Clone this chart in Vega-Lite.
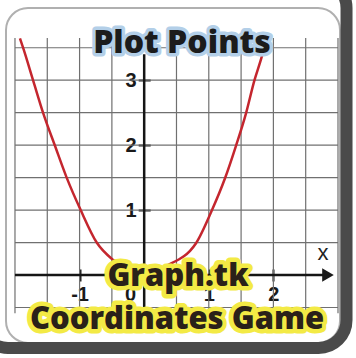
{
  "$schema": "https://vega.github.io/schema/vega-lite/v6.json",
  "width": 334,
  "height": 335,
  "autosize": {"type": "none"},
  "padding": {"left": 6, "top": 8, "right": 16, "bottom": 15},
  "background": "#ffffff",
  "config": {"view": {"fill": "#ffffff", "stroke": "#b0b0b0", "strokeWidth": 2, "cornerRadius": 22}},
  "datasets": {
    "curve": [
      {"x": -1.923, "y": 3.645},
      {"x": -1.871, "y": 3.49},
      {"x": -1.717, "y": 2.99},
      {"x": -1.562, "y": 2.49},
      {"x": -1.381, "y": 1.99},
      {"x": -1.2, "y": 1.5},
      {"x": -0.983, "y": 1.0},
      {"x": -0.735, "y": 0.5},
      {"x": -0.478, "y": 0.23},
      {"x": -0.2, "y": 0.06},
      {"x": 0.05, "y": 0.01},
      {"x": 0.322, "y": 0.13},
      {"x": 0.802, "y": 0.49},
      {"x": 1.045, "y": 0.99},
      {"x": 1.251, "y": 1.49},
      {"x": 1.421, "y": 1.99},
      {"x": 1.576, "y": 2.49},
      {"x": 1.704, "y": 2.99},
      {"x": 1.819, "y": 3.36},
      {"x": 1.87, "y": 3.55}
    ],
    "gridx": [
      {"gx": -2}, {"gx": -1.5}, {"gx": -1}, {"gx": -0.5}, {"gx": 0.5},
      {"gx": 1}, {"gx": 1.5}, {"gx": 2}, {"gx": 2.5}, {"gx": 3}
    ],
    "gridy": [
      {"gy": -0.5}, {"gy": 0.5}, {"gy": 1}, {"gy": 1.5}, {"gy": 2},
      {"gy": 2.5}, {"gy": 3}, {"gy": 3.5}
    ],
    "one": [{}]
  },
  "layer": [
    {
      "data": {"name": "curve"},
      "mark": {"type": "line", "color": "#c4262e", "strokeWidth": 2.5, "interpolate": "monotone", "opacity": 0},
      "encoding": {
        "x": {
          "field": "x", "type": "quantitative",
          "scale": {"domain": [-2.139, 3.031], "nice": false, "zero": false},
          "axis": {
            "orient": "bottom", "offset": -74, "values": [-1, 0, 1, 2],
            "domain": false, "grid": false, "tickSize": 12, "tickWidth": 2, "tickColor": "#1a1a1a",
            "labelExpr": "'' + datum.value",
            "labelOffset": {"condition": {"test": "datum.value === 0", "value": -14}, "value": 0},
            "labelFont": "Liberation Sans", "labelFontSize": 20, "labelFontWeight": 700,
            "labelColor": "#1a1a1a", "labelPadding": 3, "labelOverlap": false,
            "title": null
          }
        },
        "y": {
          "field": "y", "type": "quantitative",
          "scale": {"domain": [-1.047, 4.112], "nice": false, "zero": false},
          "axis": {
            "orient": "left", "offset": -144.2, "values": [1, 2, 3],
            "domain": false, "grid": false, "tickSize": 12, "tickWidth": 2, "tickColor": "#1a1a1a",
            "labelExpr": "'' + datum.value",
            "labelFont": "Liberation Sans", "labelFontSize": 20, "labelFontWeight": 700,
            "labelColor": "#1a1a1a", "labelPadding": 2, "labelOverlap": false,
            "title": null
          }
        }
      }
    },
    {
      "data": {"name": "one"},
      "mark": {"type": "rect", "filled": false, "stroke": "#4a4a4a", "strokeWidth": 12, "cornerRadius": 28},
      "encoding": {
        "x": {"datum": -2.541, "type": "quantitative"},
        "x2": {"datum": 3.132},
        "y": {"datum": 4.543, "type": "quantitative"},
        "y2": {"datum": -1.124}
      }
    },
    {
      "data": {"name": "gridx"},
      "mark": {"type": "rule", "color": "#707070", "strokeWidth": 1.2},
      "encoding": {
        "x": {"field": "gx", "type": "quantitative"},
        "y": {"datum": 3.65, "type": "quantitative"},
        "y2": {"datum": -0.59}
      }
    },
    {
      "data": {"name": "gridy"},
      "mark": {"type": "rule", "color": "#707070", "strokeWidth": 1.2},
      "encoding": {
        "y": {"field": "gy", "type": "quantitative"},
        "x": {"datum": -2, "type": "quantitative"},
        "x2": {"datum": 3}
      }
    },
    {
      "data": {"name": "one"},
      "mark": {"type": "rule", "color": "#151515", "strokeWidth": 2.5},
      "encoding": {
        "x": {"datum": 0, "type": "quantitative"},
        "y": {"datum": 3.4, "type": "quantitative"},
        "y2": {"datum": -0.59}
      }
    },
    {
      "data": {"name": "one"},
      "mark": {"type": "rule", "color": "#151515", "strokeWidth": 2.5},
      "encoding": {
        "y": {"datum": 0, "type": "quantitative"},
        "x": {"datum": -2, "type": "quantitative"},
        "x2": {"datum": 2.8}
      }
    },
    {
      "data": {"name": "one"},
      "mark": {"type": "point", "shape": "triangle-right", "filled": true, "fill": "#1a1a1a", "opacity": 1, "size": 180},
      "encoding": {
        "x": {"datum": 2.845, "type": "quantitative"},
        "y": {"datum": 0, "type": "quantitative"}
      }
    },
    {
      "data": {"name": "curve"},
      "mark": {"type": "line", "color": "#c4262e", "strokeWidth": 2.5, "interpolate": "monotone"},
      "encoding": {
        "x": {"field": "x", "type": "quantitative"},
        "y": {"field": "y", "type": "quantitative"}
      }
    },
    {
      "data": {"name": "one"},
      "mark": {"type": "text", "text": "x", "font": "Liberation Sans", "fontSize": 22, "color": "#222222", "baseline": "middle", "align": "center"},
      "encoding": {
        "x": {"datum": 2.768, "type": "quantitative"},
        "y": {"datum": 0.339, "type": "quantitative"}
      }
    },
    {
      "data": {"name": "one"},
      "mark": {"type": "text", "text": "Plot Points", "font": "Open Sans", "fontWeight": 800, "fontSize": 32, "fill": "#b3cfe8", "stroke": "#b3cfe8", "strokeWidth": 7, "strokeJoin": "round", "baseline": "alphabetic", "align": "center"},
      "encoding": {
        "x": {"datum": 0.585, "type": "quantitative"},
        "y": {"datum": 3.419, "type": "quantitative"}
      }
    },
    {
      "data": {"name": "one"},
      "mark": {"type": "text", "text": "Plot Points", "font": "Open Sans", "fontWeight": 800, "fontSize": 32, "fill": "#1c1c1c", "baseline": "alphabetic", "align": "center"},
      "encoding": {
        "x": {"datum": 0.585, "type": "quantitative"},
        "y": {"datum": 3.419, "type": "quantitative"}
      }
    },
    {
      "data": {"name": "one"},
      "mark": {"type": "text", "text": "Graph.tk", "font": "Open Sans", "fontWeight": 800, "fontSize": 31, "fill": "#f3ea45", "stroke": "#f3ea45", "strokeWidth": 9, "strokeJoin": "round", "baseline": "alphabetic", "align": "center"},
      "encoding": {
        "x": {"datum": 0.523, "type": "quantitative"},
        "y": {"datum": -0.169, "type": "quantitative"}
      }
    },
    {
      "data": {"name": "one"},
      "mark": {"type": "text", "text": "Coordinates Game", "font": "Open Sans", "fontWeight": 800, "fontSize": 31, "fill": "#f3ea45", "stroke": "#f3ea45", "strokeWidth": 9, "strokeJoin": "round", "baseline": "alphabetic", "align": "center"},
      "encoding": {
        "x": {"datum": 0.508, "type": "quantitative"},
        "y": {"datum": -0.831, "type": "quantitative"}
      }
    },
    {
      "data": {"name": "one"},
      "mark": {"type": "text", "text": "Graph.tk", "font": "Open Sans", "fontWeight": 800, "fontSize": 31, "fill": "#2a2119", "baseline": "alphabetic", "align": "center"},
      "encoding": {
        "x": {"datum": 0.523, "type": "quantitative"},
        "y": {"datum": -0.169, "type": "quantitative"}
      }
    },
    {
      "data": {"name": "one"},
      "mark": {"type": "text", "text": "Coordinates Game", "font": "Open Sans", "fontWeight": 800, "fontSize": 31, "fill": "#2a2119", "baseline": "alphabetic", "align": "center"},
      "encoding": {
        "x": {"datum": 0.508, "type": "quantitative"},
        "y": {"datum": -0.831, "type": "quantitative"}
      }
    }
  ]
}
